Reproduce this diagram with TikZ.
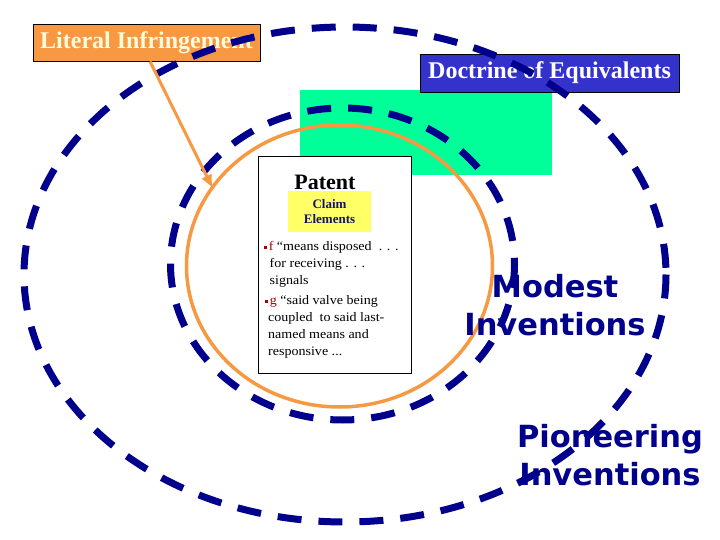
\documentclass[tikz,border=0pt]{standalone}
\usepackage{fontspec}
\setmainfont{Liberation Serif}
\newfontfamily\heavysans{DejaVu Sans}
\newfontfamily\claimfont{Liberation Serif}[FakeStretch=1.08]
\usetikzlibrary{arrows.meta}
\definecolor{navydash}{RGB}{0,0,140}
\definecolor{litorange}{RGB}{247,153,66}
\definecolor{doeblue}{RGB}{51,51,204}
\definecolor{mintgreen}{RGB}{0,255,153}
\definecolor{claimyellow}{RGB}{255,255,102}
\definecolor{claimnavy}{RGB}{20,20,100}
\definecolor{claimred}{RGB}{170,0,0}
\definecolor{creamtext}{RGB}{255,250,215}
\newcommand{\bul}{\textcolor{claimred}{\raisebox{2pt}{\rule{2.6pt}{2.6pt}}}\hspace{2pt}}
\tikzset{
  scopering/.style={draw=navydash, line width=7pt, dash pattern=on 24pt off 17pt},
  tagbox/.style={draw=black, line width=0.8pt, inner sep=0pt, font=\fontsize{24}{28}\selectfont\bfseries},
  bigword/.style={text=navydash, align=center, font=\heavysans\fontsize{30.5}{37.5}\selectfont\bfseries},
  claimtext/.style={anchor=base west, align=left, inner sep=0pt, font=\claimfont\fontsize{13}{16.7}\selectfont}
}
\begin{document}
\begin{tikzpicture}[x=1pt,y=-1pt]
\def\w{3.5pt}
\useasboundingbox (0,0) rectangle (720,540);
\fill[mintgreen] (300,90) rectangle (552,175);
\draw[litorange, line width=\w] (339.5,266) ellipse [x radius=153, y radius=141];
\draw[scopering] (342.5,264) ellipse [x radius=172, y radius=156];
\node [draw=black, fill=white, line width=0.8pt, minimum width=153, minimum height=217, inner sep=0pt, name=patent] at (334.5,264.5){};
\node [font=\fontsize{22}{26}\selectfont\bfseries, anchor=base, name=ptitle] at (325,190){Patent};
\node [fill=claimyellow, minimum width=83, minimum height=41, inner sep=0pt, text=claimnavy, align=center, font=\fontsize{13}{15.5}\selectfont\bfseries, name=claim] at (329.5,211.5){Claim\\Elements};
% base anchor sits on the last line
\node [claimtext, name=elf] at (264,284){\bul\textcolor{claimred}{f} “means disposed\ \ . . .\\\hspace*{5.5pt}for receiving . . .\\\hspace*{5.5pt}signals};
\node [claimtext, name=elg] at (265,355){\bul\textcolor{claimred}{g} “said valve being\\\hspace*{3pt}coupled\ \ to said last-\\\hspace*{3pt}named means and\\\hspace*{3pt}responsive ...};
\node [tagbox, fill=litorange, text=creamtext, minimum width=227, minimum height=37, name=lit] at (146.5,42.5){Literal Infringement};
\node [tagbox, fill=doeblue, text=white, minimum width=259, minimum height=38, name=doe] at (549.5,73){Doctrine of Equivalents};
\draw[scopering] (345,274.5) ellipse [x radius=321, y radius=247.5];
\coordinate (hit) at (212,187);
\draw [litorange, line width=3pt, -{Triangle[length=12pt, width=10pt]}]([xshift=3.5pt]lit.south) -- (hit);
\node [bigword, anchor=base, name=modest] at (555,335){Modest\\Inventions};
\node [bigword, anchor=base, name=pioneer] at (610,485){Pioneering\\Inventions};
\end{tikzpicture}
\end{document}
